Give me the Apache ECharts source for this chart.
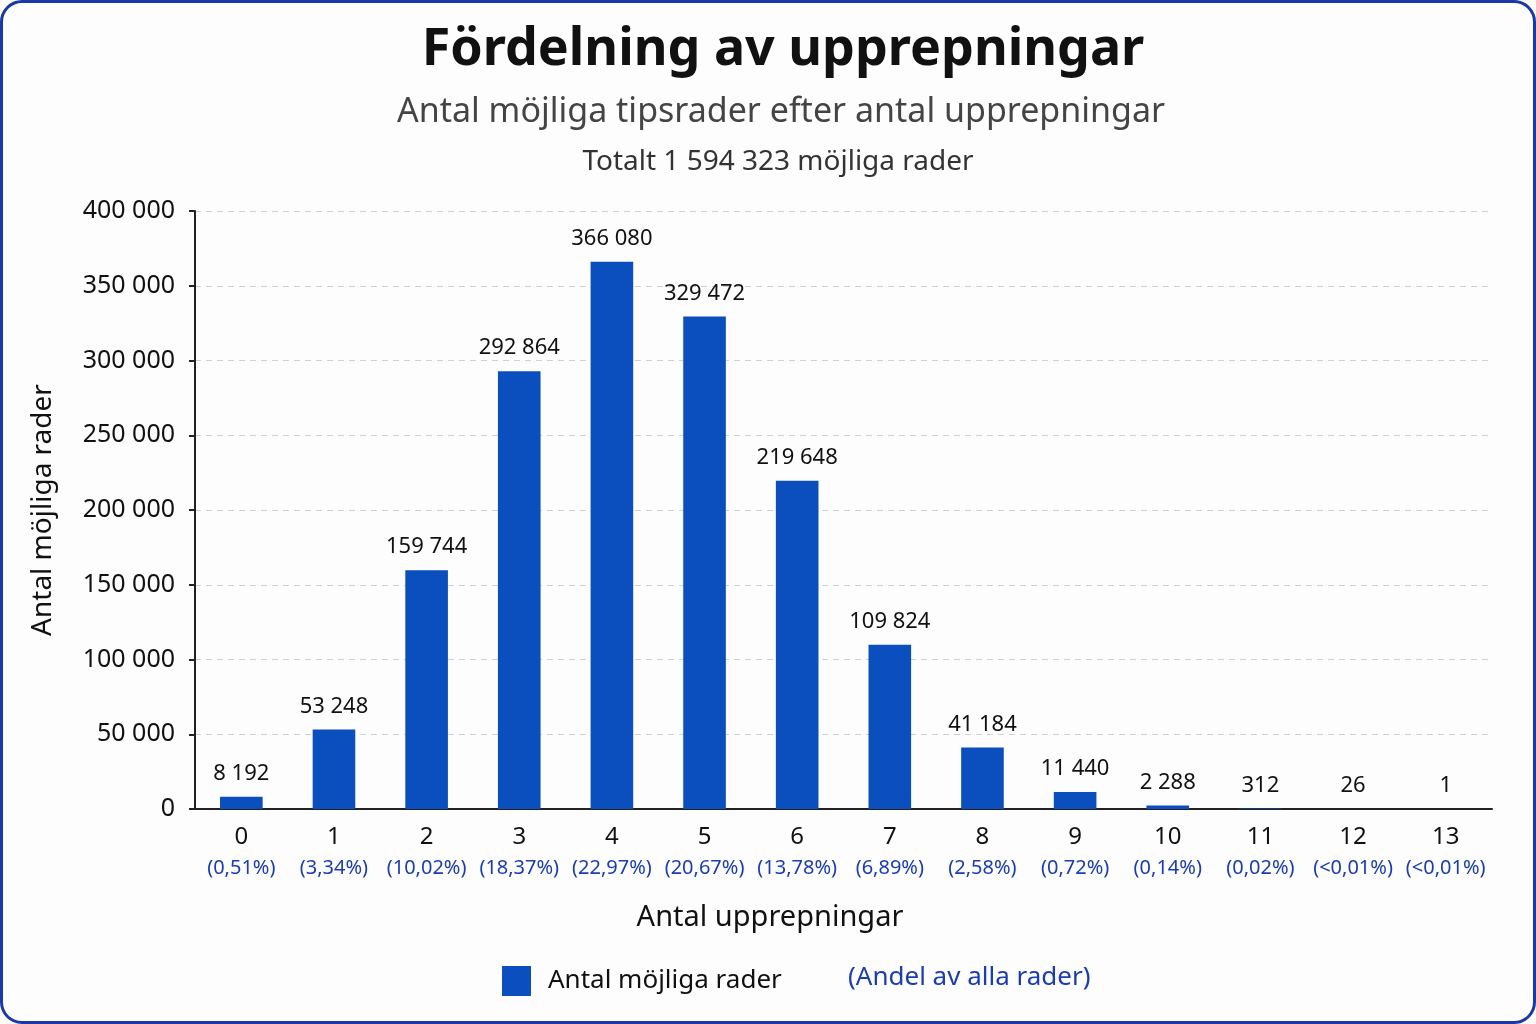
<!DOCTYPE html>
<html>
<head>
<meta charset="utf-8">
<script src="https://cdn.jsdelivr.net/npm/echarts@6/dist/echarts.min.js"></script>
<style>
  html, body { margin: 0; padding: 0; background: #fdfdfd; }
  #chart { position: absolute; left: 0; top: 0; width: 1536px; height: 1024px; }
  #frame {
    position: absolute; left: 0; top: 0; width: 1536px; height: 1024px;
    box-sizing: border-box; border: 3px solid #1a38a6; border-radius: 22px;
    pointer-events: none;
  }
</style>
</head>
<body>
<div id="chart"></div>
<div id="frame"></div>
<script>
// Data
const categories = ['0', '1', '2', '3', '4', '5', '6', '7', '8', '9', '10', '11', '12', '13'];
const counts = [8192, 53248, 159744, 292864, 366080, 329472, 219648, 109824, 41184, 11440, 2288, 312, 26, 1];
const shares = ['0,51%', '3,34%', '10,02%', '18,37%', '22,97%', '20,67%', '13,78%', '6,89%', '2,58%', '0,72%', '0,14%', '0,02%', '<0,01%', '<0,01%'];
const yTicks = [0, 50000, 100000, 150000, 200000, 250000, 300000, 350000, 400000];

const FONT = '"Noto Sans", "Open Sans", sans-serif';
const BLUE = '#0a4fbd';
const TEXT_BLUE = '#1b3db3';

// 12345 -> "12 345"
function fmt(v) {
  return String(v).replace(/\B(?=(\d{3})+(?!\d))/g, ' ');
}

const chart = echarts.init(document.getElementById('chart'));

chart.setOption({
  backgroundColor: 'transparent',
  textStyle: { fontFamily: FONT },
  legend: {
    data: ['Antal möjliga rader'],
    left: 497, top: 961,
    itemWidth: 29, itemHeight: 30, itemGap: 20,
    icon: 'rect',
    textStyle: { fontSize: 26, color: '#111', fontFamily: FONT, padding: [0, 0, 0, 12] }
  },
  graphic: [
    // rubriker
    {
      type: 'text', x: 783, y: 50,
      style: { text: 'Fördelning av upprepningar', fontSize: 52, fontWeight: 'bold', fill: '#111',
               fontFamily: FONT, align: 'center', verticalAlign: 'middle' }
    },
    {
      type: 'text', x: 781, y: 112,
      style: { text: 'Antal möjliga tipsrader efter antal upprepningar', fontSize: 34, fill: '#444',
               fontFamily: FONT, align: 'center', verticalAlign: 'middle' }
    },
    {
      type: 'text', x: 778, y: 162,
      style: { text: 'Totalt 1 594 323 möjliga rader', fontSize: 28, fill: '#333',
               fontFamily: FONT, align: 'center', verticalAlign: 'middle' }
    },
    {
      type: 'text', x: 770, y: 918,
      style: { text: 'Antal upprepningar', fontSize: 29, fill: '#111',
               fontFamily: FONT, align: 'center', verticalAlign: 'middle' }
    },
    {
      type: 'text', x: 848, y: 978,
      style: { text: '(Andel av alla rader)', fontSize: 26, fill: TEXT_BLUE,
               fontFamily: FONT, verticalAlign: 'middle' }
    }
  ],
  grid: { left: 195, right: 44, top: 211, bottom: 215 },
  xAxis: {
    type: 'category',
    data: categories,
    axisLine: { lineStyle: { color: '#222', width: 2 } },
    axisTick: { show: false },
    axisLabel: {
      interval: 0,
      margin: 12,
      formatter: function (v, i) { return '{n|' + v + '}\n{p|(' + shares[i] + ')}'; },
      rich: {
        n: { fontSize: 24, color: '#111', fontFamily: FONT, lineHeight: 32 },
        p: { fontSize: 20, color: TEXT_BLUE, fontFamily: FONT, lineHeight: 30 }
      }
    }
  },
  yAxis: {
    type: 'value',
    min: yTicks[0], max: yTicks[yTicks.length - 1], interval: 50000,
    name: 'Antal möjliga rader',
    nameLocation: 'middle',
    nameGap: 138,
    nameTextStyle: { fontSize: 28, color: '#111', fontFamily: FONT },
    axisLine: { show: true, lineStyle: { color: '#222', width: 2 } },
    axisTick: { show: true, length: 6, lineStyle: { color: '#222', width: 2 } },
    axisLabel: {
      fontSize: 25, color: '#111', fontFamily: FONT, margin: 20,
      formatter: function (v) { return fmt(v); }
    },
    splitLine: { lineStyle: { color: '#d0d0d0', type: [6, 5], width: 1 } }
  },
  series: [
    {
      name: 'Antal möjliga rader',
      type: 'bar',
      data: counts,
      barWidth: '46%',
      itemStyle: { color: BLUE },
      label: {
        show: true, position: 'top', distance: 12,
        fontSize: 22, color: '#111', fontFamily: FONT,
        formatter: function (p) { return fmt(p.value); }
      }
    }
  ]
});
</script>
</body>
</html>
